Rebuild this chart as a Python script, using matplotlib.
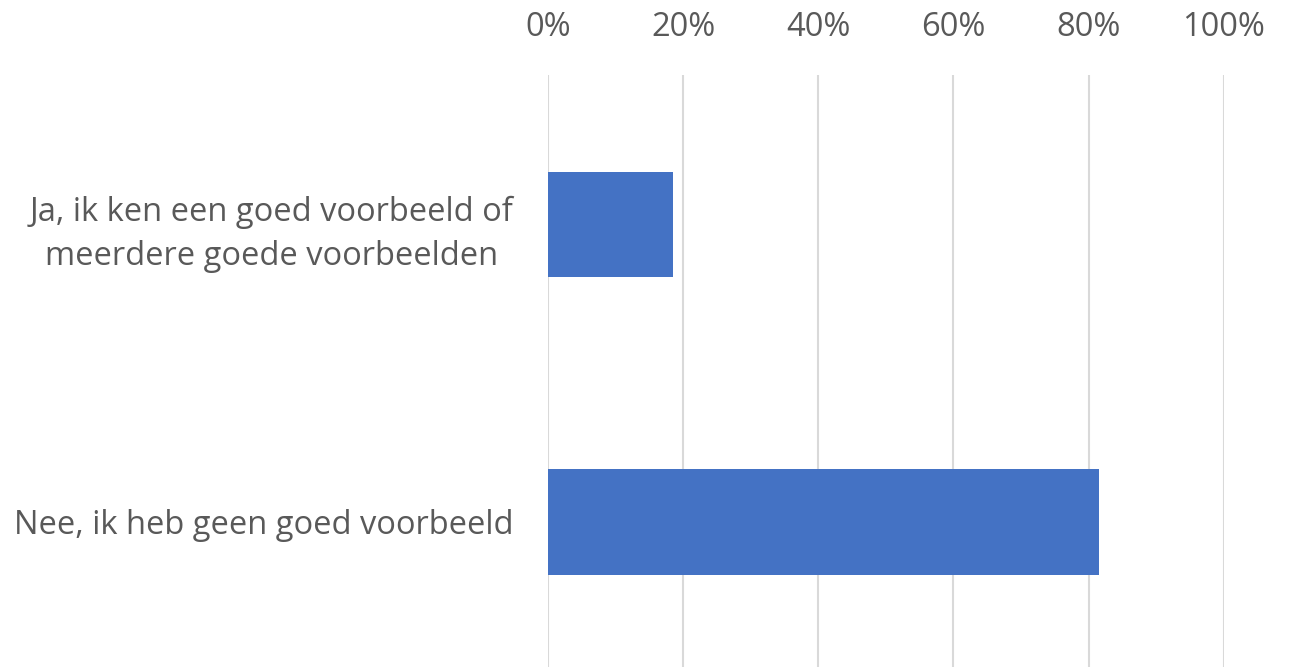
import matplotlib.pyplot as plt

categories = ["Ja, ik ken een goed voorbeeld of\nmeerdere goede voorbeelden",
              "Nee, ik heb geen goed voorbeeld"]
values = [18.4, 81.6]
ticks = [0, 20, 40, 60, 80, 100]
tick_labels = ["0%", "20%", "40%", "60%", "80%", "100%"]

plt.rcParams['font.family'] = ['Open Sans', 'DejaVu Sans']
grey = "#595959"

fig = plt.figure(figsize=(12.92, 6.67), dpi=100)
ax = fig.add_axes([0.4245, -0.01, 0.5225, 0.8976])

ax.barh(range(len(categories)), values, height=0.354, color="#4472c4", zorder=3)
ax.set_xlim(0, 100)
ax.set_ylim(1.51, -0.503)

ax.set_xticks(ticks)
ax.set_xticklabels(tick_labels)
ax.xaxis.tick_top()
ax.tick_params(axis="x", length=0, pad=22, labelsize=23.5, labelcolor=grey)
ax.set_yticks(range(len(categories)))
ax.set_yticklabels(categories, multialignment="center", linespacing=1.45)
ax.tick_params(axis="y", length=0, pad=25, labelsize=23.5, labelcolor=grey)

ax.grid(axis="x", color="#d9d9d9", linewidth=1.5, zorder=0)
for s in ax.spines.values():
    s.set_visible(False)

fig.savefig("out.png", dpi=100)
